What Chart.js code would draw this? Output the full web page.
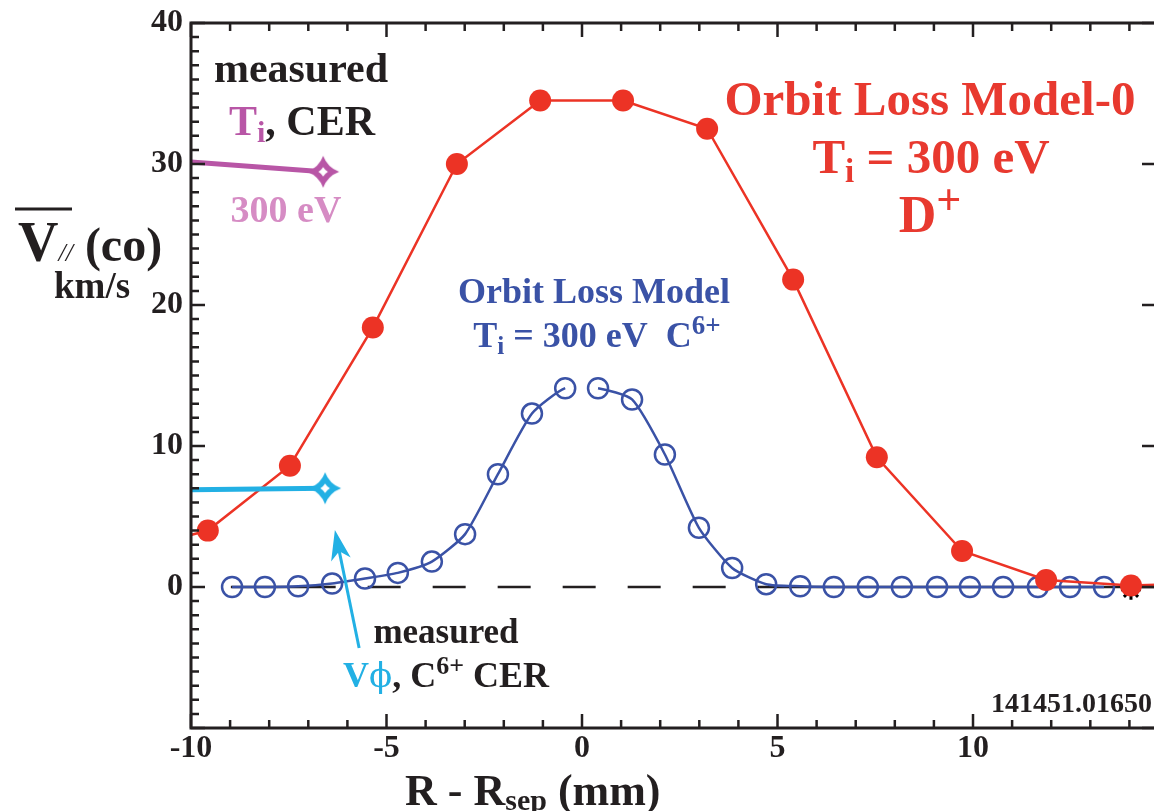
<!DOCTYPE html>
<html><head><meta charset="utf-8">
<script src="https://cdn.jsdelivr.net/npm/chart.js@4.4.1/dist/chart.umd.min.js"></script>
<style>
html,body{margin:0;padding:0;background:#fff;overflow:hidden;width:1154px;height:811px}
#wrap{position:relative;width:1158px;height:811px}
canvas{display:block}
</style></head>
<body><div id="wrap"><canvas id="c" width="1158" height="811"></canvas></div>
<script>
// ---------- data ----------
const ticksX = [-10, -5, 0, 5, 10];
const ticksY = [0, 10, 20, 30, 40];

// Orbit Loss Model-0, Ti = 300 eV, D+ (filled red circles)
const modelD_x = [-11.71, -9.57, -7.47, -5.35, -3.20, -1.07, 1.05, 3.20, 5.40, 7.54, 9.72, 11.87, 14.04, 16.2];
const modelD_y = [2.5, 4.0, 8.6, 18.4, 30.0, 34.5, 34.5, 32.5, 21.8, 9.2, 2.55, 0.5, 0.1, 0.3];

// Orbit Loss Model, Ti = 300 eV, C6+ (open blue circles)
const modelC_x = [-8.95, -8.11, -7.26, -6.39, -5.55, -4.71, -3.84, -2.99, -2.15, -1.28, -0.43, 0.41, 1.28, 2.12, 2.99, 3.84, 4.71, 5.58, 6.44, 7.31, 8.18, 9.08, 9.92, 10.77, 11.66, 12.48, 13.35];
const modelC_y = [0.0, 0.0, 0.05, 0.25, 0.6, 1.0, 1.8, 3.75, 8.0, 12.3, 14.1, 14.1, 13.3, 9.4, 4.2, 1.35, 0.2, 0.05, 0, 0, 0, 0, 0, 0, 0, 0, 0];

// measured Vphi, C6+ CER (cyan)
const vphi_x = [-10, -6.57];
const vphi_y = [6.9, 7.0];

// measured Ti, CER (magenta)
const ti_x = [-10, -6.62];
const ti_y = [30.15, 29.45];

// black marker under last red point
const star_x = [14.04];
const star_y = [-0.2];

// zero reference line (solid / dashed / solid)
const zero_x = [-8.98, -6.3, 4.55, 16];
const zero_y = [0, 0, 0, 0];

// arrow from the "measured Vphi" label to the cyan curve
const arrowTail = {x: -5.70, y: -4.33};
const arrowTip  = {x: -6.32, y: 4.04};

// ---------- styling ----------
const SERIF = '"Liberation Serif", "Times New Roman", serif';
const RED = '#ec3325', RED_T = '#e8392f', BLUE = '#3a52a6', CYAN = '#22b0e4', MAG = '#b856a6', PINK = '#d68cc4', INK = '#231f20';

function pts(xs, ys){ return xs.map((x,i)=>({x, y: ys[i]})); }

function makeAstroid(color, r){
  const s = 2*r + 4, c = document.createElement('canvas');
  c.width = s; c.height = s;
  const g = c.getContext('2d'), m = s/2, k = 0.27*r;
  g.fillStyle = color;
  g.beginPath();
  g.moveTo(m, m-r);
  g.quadraticCurveTo(m+k, m-k, m+r, m);
  g.quadraticCurveTo(m+k, m+k, m, m+r);
  g.quadraticCurveTo(m-k, m+k, m-r, m);
  g.quadraticCurveTo(m-k, m-k, m, m-r);
  g.closePath(); g.fill();
  const ri = 0.3*r, ki = 0.11*r;
  g.fillStyle = '#fff';
  g.beginPath();
  g.moveTo(m, m-ri);
  g.quadraticCurveTo(m+ki, m-ki, m+ri, m);
  g.quadraticCurveTo(m+ki, m+ki, m, m+ri);
  g.quadraticCurveTo(m-ki, m+ki, m-ri, m);
  g.quadraticCurveTo(m-ki, m-ki, m, m-ri);
  g.closePath(); g.fill();
  return c;
}
const magMarker = makeAstroid(MAG, 16);
const cyanMarker = makeAstroid(CYAN, 16);

function rich(ctx, parts, x, y, align){
  let w = 0;
  for (const p of parts){
    ctx.font = `${p.st||''} ${p.w||'bold'} ${p.s}px ${p.f||SERIF}`;
    p._w = ctx.measureText(p.t).width; w += p._w;
  }
  let cx = align === 'center' ? x - w/2 : align === 'right' ? x - w : x;
  ctx.textAlign = 'left'; ctx.textBaseline = 'alphabetic';
  for (const p of parts){
    ctx.font = `${p.st||''} ${p.w||'bold'} ${p.s}px ${p.f||SERIF}`;
    ctx.fillStyle = p.c || INK;
    ctx.fillText(p.t, cx, y + (p.dy||0));
    cx += p._w;
  }
}

const framePlugin = {
  id: 'frame',
  afterDatasetsDraw(chart){
    const ctx = chart.ctx, xs = chart.scales.x, ys = chart.scales.y;
    // arrow
    const t0x = xs.getPixelForValue(arrowTail.x), t0y = ys.getPixelForValue(arrowTail.y);
    const t1x = xs.getPixelForValue(arrowTip.x), t1y = ys.getPixelForValue(arrowTip.y);
    let dx = t1x - t0x, dy = t1y - t0y; const L = Math.hypot(dx, dy); dx /= L; dy /= L;
    const px = -dy, py = dx, hl = 30, hw = 10;
    ctx.save();
    ctx.strokeStyle = CYAN; ctx.fillStyle = CYAN; ctx.lineWidth = 3;
    ctx.beginPath(); ctx.moveTo(t0x, t0y); ctx.lineTo(t1x - dx*hl*0.6, t1y - dy*hl*0.6); ctx.stroke();
    ctx.beginPath();
    ctx.moveTo(t1x, t1y);
    ctx.lineTo(t1x - dx*hl + px*hw, t1y - dy*hl + py*hw);
    ctx.lineTo(t1x - dx*hl*0.72, t1y - dy*hl*0.72);
    ctx.lineTo(t1x - dx*hl - px*hw, t1y - dy*hl - py*hw);
    ctx.closePath(); ctx.fill();
    ctx.restore();
  },
  afterDraw(chart){
    const ctx = chart.ctx, xs = chart.scales.x, ys = chart.scales.y;
    const {left, right, top, bottom} = chart.chartArea;
    ctx.save();
    ctx.strokeStyle = INK; ctx.lineCap = 'butt';
    // ticks (inward)
    ctx.lineWidth = 2.5;
    ctx.beginPath();
    for (let v = -10; v <= 14; v++){
      const p = xs.getPixelForValue(v), len = (v % 5 === 0) ? 14 : 8;
      ctx.moveTo(p, bottom); ctx.lineTo(p, bottom - len);
      ctx.moveTo(p, top); ctx.lineTo(p, top + len);
    }
    for (let v = -10; v <= 40; v++){
      const p = ys.getPixelForValue(v), len = (v % 10 === 0) ? 14 : 8;
      ctx.moveTo(left, p); ctx.lineTo(left + len, p);
      if (v % 10 === 0){ ctx.moveTo(right, p); ctx.lineTo(right - len, p); }
    }
    ctx.stroke();
    // spines
    ctx.lineWidth = 3;
    ctx.strokeRect(left, top, right - left, bottom - top);

    // ---- texts ----
    rich(ctx, [{t:'measured', s:42}], 301, 82, 'center');
    rich(ctx, [{t:'T', s:42, c:MAG}, {t:'i', s:30, c:MAG, dy:7}, {t:', CER', s:42}], 302, 135, 'center');
    rich(ctx, [{t:'300 eV', s:38, c:PINK}], 286, 222, 'center');

    rich(ctx, [{t:'Orbit Loss Model-0', s:49, c:RED_T}], 930, 115, 'center');
    rich(ctx, [{t:'T', s:49, c:RED_T}, {t:'i', s:33, c:RED_T, dy:9}, {t:' = 300 eV', s:49, c:RED_T}], 931, 173, 'center');
    rich(ctx, [{t:'D', s:52, c:RED_T}, {t:'+', s:44, c:RED_T, dy:-18}], 930, 232, 'center');

    rich(ctx, [{t:'Orbit Loss Model', s:36, c:BLUE}], 594, 303, 'center');
    rich(ctx, [{t:'T', s:36, c:BLUE}, {t:'i', s:25, c:BLUE, dy:7}, {t:' = 300 eV  C', s:36, c:BLUE}, {t:'6+', s:27, c:BLUE, dy:-13}], 597, 347, 'center');

    rich(ctx, [{t:'measured', s:35}], 446, 643, 'center');
    rich(ctx, [{t:'V', s:36, c:CYAN}, {t:'\u03d5', s:34, c:CYAN, w:'normal', f:'"DejaVu Serif", "Liberation Serif", serif'}, {t:', C', s:36}, {t:'6+', s:26, dy:-13}, {t:' CER', s:36}], 343, 687, 'left');

    rich(ctx, [{t:'141451.01650', s:28}], 1152, 712, 'right');

    // y-axis title
    rich(ctx, [{t:'V', s:56}, {t:'//', s:26, w:'normal', st:'italic'}, {t:' (co)', s:48}], 18, 261, 'left');
    ctx.lineWidth = 3; ctx.strokeStyle = INK;
    ctx.beginPath(); ctx.moveTo(15, 209); ctx.lineTo(72, 209); ctx.stroke();
    rich(ctx, [{t:'km/s', s:37}], 54, 298, 'left');

    // x-axis title
    rich(ctx, [{t:'R - R', s:44}, {t:'sep', s:30, dy:5}, {t:' (mm)', s:44}], 405, 805, 'left');
    ctx.restore();
  }
};

const chart = new Chart(document.getElementById('c').getContext('2d'), {
  type: 'scatter',
  data: {
    datasets: [
      { label: 'measured Vphi', data: pts(vphi_x, vphi_y), showLine: true, borderColor: CYAN, borderWidth: 5,
        pointRadius: c => c.dataIndex === vphi_x.length - 1 ? 16 : 0, pointStyle: cyanMarker },
      { label: 'measured Ti', data: pts(ti_x, ti_y), showLine: true, borderColor: MAG, borderWidth: 5,
        pointRadius: c => c.dataIndex === ti_x.length - 1 ? 16 : 0, pointStyle: magMarker },
      { label: 'Orbit Loss Model-0', data: pts(modelD_x, modelD_y), showLine: true, borderColor: RED, borderWidth: 2.5,
        pointRadius: 11, pointBackgroundColor: RED, pointBorderWidth: 0, tension: 0 },
      { label: 'marker', data: pts(star_x, star_y), showLine: false, pointStyle: 'star', pointRadius: 10,
        borderColor: '#000', pointBorderColor: '#000', pointBorderWidth: 3 },
      { label: 'Orbit Loss Model C6+', data: pts(modelC_x, modelC_y), showLine: true, borderColor: BLUE, borderWidth: 2.5,
        pointRadius: 10, pointBorderWidth: 2.5, pointBorderColor: BLUE, pointBackgroundColor: 'rgba(0,0,0,0)', tension: 0.2,
        segment: { borderColor: c => (c.p0.parsed.x < 0 && c.p1.parsed.x > 0) ? 'rgba(0,0,0,0)' : undefined } },
      { label: 'zero', data: pts(zero_x, zero_y), showLine: true, borderColor: INK, borderWidth: 2.5, pointRadius: 0,
        segment: { borderDash: c => c.p0DataIndex === 1 ? [33, 32] : undefined,
                   borderDashOffset: c => c.p0DataIndex === 1 ? 33 : undefined } }
    ]
  },
  options: {
    responsive: false, animation: false, devicePixelRatio: 1,
    layout: { autoPadding: false, padding: { left: 0, right: 2, top: 23, bottom: 0 } },
    plugins: { legend: { display: false }, tooltip: { enabled: false } },
    scales: {
      x: { type: 'linear', min: -10, max: 14.68,
           grid: { display: false, drawTicks: false }, border: { display: false },
           ticks: { stepSize: 5, includeBounds: false, autoSkip: false, maxRotation: 0, padding: 2, color: INK,
                    font: { family: SERIF, size: 32, weight: 'bold' },
                    callback: v => ticksX.includes(v) ? String(v) : '' },
           afterFit: s => { s.height = 83; s.paddingLeft = 0; s.paddingRight = 0; } },
      y: { type: 'linear', min: -10, max: 40,
           grid: { display: false, drawTicks: false }, border: { display: false },
           ticks: { stepSize: 10, includeBounds: false, autoSkip: false, padding: 8, color: INK,
                    font: { family: SERIF, size: 32, weight: 'bold' },
                    callback: v => ticksY.includes(v) ? String(v) : '' },
           afterFit: s => { s.width = 191; s.paddingTop = 0; s.paddingBottom = 0; } }
    }
  },
  plugins: [framePlugin]
});
</script></body></html>
